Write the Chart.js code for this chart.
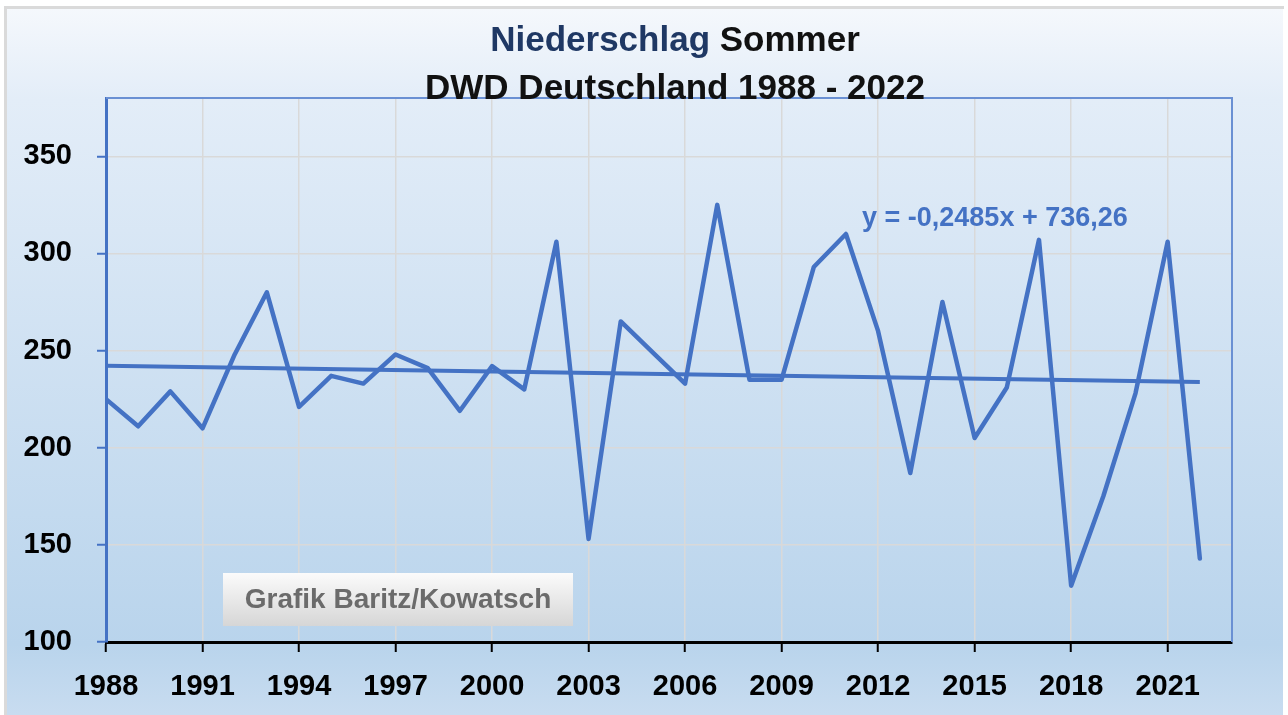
<!DOCTYPE html>
<html>
<head>
<meta charset="utf-8">
<script src="https://cdn.jsdelivr.net/npm/chart.js@4.4.0/dist/chart.umd.min.js"></script>
<style>
  html, body { margin: 0; padding: 0; background: #fff; }
  canvas { display: block; }
</style>
</head>
<body>
<canvas id="myChart" width="1288" height="715"></canvas>
<script>
const years = [
  1988, 1989, 1990, 1991, 1992, 1993, 1994, 1995, 1996, 1997,
  1998, 1999, 2000, 2001, 2002, 2003, 2004, 2005, 2006, 2007,
  2008, 2009, 2010, 2011, 2012, 2013, 2014, 2015, 2016, 2017,
  2018, 2019, 2020, 2021, 2022,
];
const rainfall = [
  225, 211, 229, 210, 248, 280, 221, 237, 233, 248,
  241, 219, 242, 230, 306, 153, 265, 249, 233, 325,
  235, 235, 293, 310, 260, 187, 275, 205, 231, 307,
  129, 175, 228, 306, 143,
];
// linear trend, end points
const trendYears = [1988, 2022];
const trendValues = [242.2, 233.8];

const xTickYears = [1988, 1991, 1994, 1997, 2000, 2003, 2006, 2009, 2012, 2015, 2018, 2021];
const yTickValues = [100, 150, 200, 250, 300, 350];

const titleBlue = 'Niederschlag';
const titleBlack = 'Sommer';
const subtitle = 'DWD Deutschland 1988 - 2022';
const trendLabel = 'y = -0,2485x + 736,26';
const trendLabelAt = [2011.5, 318];
const creditLabel = 'Grafik Baritz/Kowatsch';

const FONT = '"Liberation Sans", Arial, sans-serif';
const BLUE = '#4472c4';

const decor = {
  id: 'decor',
  beforeDraw(chart) {
    const ctx = chart.ctx;
    const w = chart.width, h = chart.height;
    ctx.save();
    ctx.fillStyle = '#ffffff';
    ctx.fillRect(0, 0, w, h);
    const g = ctx.createLinearGradient(0, 8, 0, h);
    g.addColorStop(0, '#f5f8fc');
    g.addColorStop(0.13, '#e3edf8');
    g.addColorStop(0.9, '#b9d4ec');
    g.addColorStop(1, '#c8dcf0');
    ctx.fillStyle = g;
    ctx.fillRect(7, 9, 1276, h - 9);
    ctx.strokeStyle = '#dadada';
    ctx.lineWidth = 3;
    ctx.beginPath();
    ctx.moveTo(5.5, h);
    ctx.lineTo(5.5, 7.5);
    ctx.lineTo(1284, 7.5);
    ctx.stroke();
    ctx.restore();
  },
  afterDraw(chart) {
    const ctx = chart.ctx;
    const a = chart.chartArea;
    const xs = chart.scales.x, ys = chart.scales.y;
    ctx.save();

    // top and right frame of the plot area
    ctx.strokeStyle = '#6a90d3';
    ctx.lineWidth = 2;
    ctx.beginPath();
    ctx.moveTo(a.left, a.top);
    ctx.lineTo(a.right, a.top);
    ctx.lineTo(a.right, a.bottom);
    ctx.stroke();

    // title
    ctx.font = 'bold 35px ' + FONT;
    ctx.textBaseline = 'middle';
    ctx.textAlign = 'left';
    const cx = 675;
    const w1 = ctx.measureText(titleBlue + ' ').width;
    const w2 = ctx.measureText(titleBlack).width;
    let x0 = cx - (w1 + w2) / 2;
    ctx.fillStyle = '#1f3864';
    ctx.fillText(titleBlue + ' ', x0, 41);
    ctx.fillStyle = '#111';
    ctx.fillText(titleBlack, x0 + w1, 41);
    ctx.textAlign = 'center';
    ctx.fillText(subtitle, cx, 89);

    // trend equation
    ctx.font = 'bold 27px ' + FONT;
    ctx.fillStyle = BLUE;
    ctx.textAlign = 'left';
    ctx.fillText(trendLabel, xs.getPixelForValue(trendLabelAt[0]), ys.getPixelForValue(trendLabelAt[1]));

    // credit box
    const bx = 223, by = 573, bw = 350, bh = 53;
    const g = ctx.createLinearGradient(0, by, 0, by + bh);
    g.addColorStop(0, '#fbfbfb');
    g.addColorStop(1, '#d6d6d6');
    ctx.fillStyle = g;
    ctx.fillRect(bx, by, bw, bh);
    ctx.font = 'bold 28px ' + FONT;
    ctx.fillStyle = '#6b6b6b';
    ctx.textAlign = 'center';
    ctx.fillText(creditLabel, bx + bw / 2, by + bh / 2 + 1);

    ctx.restore();
  }
};

const tickFont = { family: FONT, size: 29, weight: 'bold' };

const config = {
  type: 'line',
  data: {
    datasets: [
      {
        data: years.map((y, i) => ({ x: y, y: rainfall[i] })),
        borderColor: BLUE,
        borderWidth: 4.5,
        pointRadius: 0,
        tension: 0,
        borderJoinStyle: 'round',
        borderCapStyle: 'round',
      },
      {
        data: trendYears.map((y, i) => ({ x: y, y: trendValues[i] })),
        borderColor: BLUE,
        borderWidth: 4,
        pointRadius: 0,
      },
    ]
  },
  options: {
    responsive: false,
    animation: false,
    layout: { padding: { top: 98, right: 56, left: 0, bottom: 0 } },
    plugins: {
      legend: { display: false },
      title: { display: false },
      tooltip: { enabled: false },
    },
    scales: {
      x: {
        type: 'linear',
        min: 1988,
        max: 2023,
        afterBuildTicks: s => { s.ticks = xTickYears.map(v => ({ value: v })); },
        afterFit: s => { s.height = 73; },
        grid: { color: '#d9d9d9', lineWidth: 1.5, tickColor: '#000', tickLength: 10, tickWidth: 2 },
        border: { color: '#000', width: 3 },
        ticks: {
          color: '#000',
          font: tickFont,
          padding: 18,
          maxRotation: 0,
          autoSkip: false,
          callback: v => String(v),
        },
      },
      y: {
        min: 100,
        max: 380,
        afterBuildTicks: s => { s.ticks = yTickValues.map(v => ({ value: v })); },
        afterFit: s => { s.width = 106; },
        grid: { color: '#d9d9d9', lineWidth: 1.5, tickColor: BLUE, tickLength: 9, tickWidth: 2 },
        border: { color: BLUE, width: 3 },
        ticks: { color: '#000', font: tickFont, padding: 25 },
      },
    },
  },
  plugins: [decor],
};

if (document.getElementById('myChart')) {
  const myChart = new Chart(
    document.getElementById('myChart').getContext('2d'),
    config
  );
}
</script>
</body>
</html>
